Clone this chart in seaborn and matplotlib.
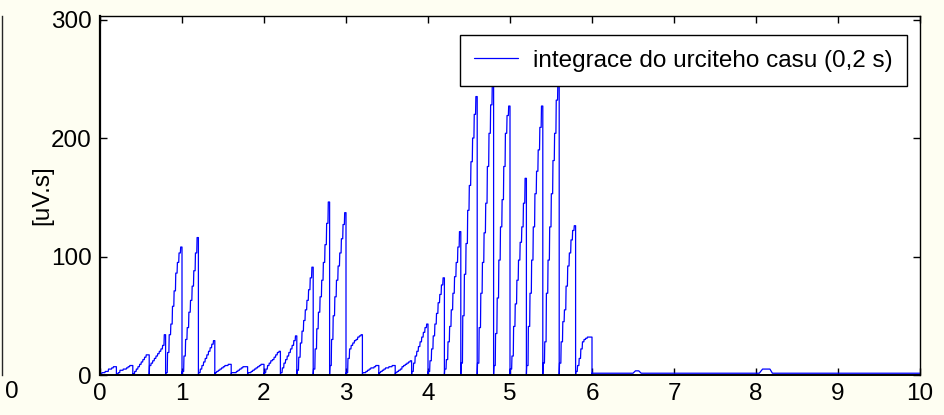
import numpy as np
import pandas as pd
import matplotlib
matplotlib.use("Agg")
import matplotlib.pyplot as plt
import seaborn as sns

# ---------------- data ----------------
window_len = 0.2          # integration window (s)
steps_per_window = 10     # integration steps inside a window
# integrated value [uV.s] for every 0.02 s step, windows 0..29 (0 - 6 s)
integ_values = [
    1, 2, 2, 3, 3, 5, 5, 6, 7, 7,
    1, 2, 4, 4, 5, 5, 6, 7, 8, 8,
    1, 3, 5, 7, 9, 11, 13, 15, 17, 17,
    8, 10, 12, 14, 16, 18, 20, 22, 25, 34,
    2, 19, 34, 43, 58, 71, 86, 95, 103, 108,
    3, 16, 30, 40, 53, 63, 75, 88, 103, 116,
    2, 5, 8, 11, 14, 17, 20, 23, 26, 29,
    2, 3, 4, 5, 6, 7, 8, 8, 9, 9,
    2, 2, 2, 3, 4, 5, 6, 7, 7, 7,
    2, 2, 3, 4, 5, 6, 7, 8, 9, 9,
    2, 5, 8, 10, 12, 13, 15, 17, 19, 20,
    2, 6, 10, 13, 16, 19, 22, 25, 29, 33,
    4, 15, 27, 37, 46, 55, 63, 72, 82, 91,
    5, 22, 39, 53, 66, 80, 95, 110, 128, 146,
    8, 30, 50, 66, 80, 92, 103, 115, 127, 137,
    2, 14, 22, 25, 27, 29, 30, 32, 33, 34,
    2, 2, 3, 4, 5, 6, 6, 7, 8, 8,
    2, 3, 4, 5, 6, 6, 7, 7, 8, 8,
    2, 3, 4, 5, 7, 8, 9, 10, 11, 12,
    3, 10, 16, 20, 24, 28, 32, 36, 40, 43,
    3, 12, 22, 33, 43, 52, 61, 68, 76, 82,
    5, 13, 28, 41, 55, 69, 83, 95, 108, 121,
    10, 50, 85, 111, 139, 160, 180, 200, 220, 235,
    10, 40, 69, 95, 120, 145, 176, 204, 228, 246,
    8, 35, 65, 97, 125, 148, 176, 204, 219, 227,
    5, 16, 41, 60, 80, 97, 112, 125, 145, 166,
    8, 41, 69, 97, 125, 153, 172, 190, 209, 227,
    10, 28, 69, 97, 125, 153, 181, 204, 232, 248,
    10, 28, 45, 55, 75, 92, 103, 114, 122, 126,
    3, 8, 14, 22, 28, 30, 31, 32, 32, 32,
]
# quiet part after 6 s
tail_t = [6.0, 6.5, 6.53, 6.57, 6.6, 8.04, 8.08, 8.17, 8.2, 10.0]
tail_v = [1.5, 1.5, 3.5, 3.5, 1.5, 1.5, 5.0, 5.0, 1.5, 1.5]

xticks = list(range(0, 11))
yticks = [0, 100, 200, 300]
legend_label = "integrace do urciteho casu (0,2 s)"
ylabel = "[uV.s]"

# ---------------- build staircase path ----------------
dt = window_len / steps_per_window
xs, ys = [], []
n_win = len(integ_values) // steps_per_window
for k in range(n_win):
    t0 = k * window_len
    xs.append(t0); ys.append(0.0)
    for j in range(steps_per_window):
        v = integ_values[k * steps_per_window + j]
        xs.append(t0 + j * dt + 0.004); ys.append(v)
        xs.append(t0 + (j + 1) * dt); ys.append(v)
xs.append(n_win * window_len); ys.append(0.0)
xs += tail_t; ys += tail_v
df = pd.DataFrame({"t": xs, "v": ys})

# ---------------- figure ----------------
sns.set_style("white")
plt.rcParams["font.family"] = ["Liberation Sans", "DejaVu Sans"]
plt.rcParams["text.color"] = "black"
plt.rcParams["xtick.color"] = "black"
plt.rcParams["ytick.color"] = "black"
plt.rcParams["axes.labelcolor"] = "black"
FS = 17.5

fig = plt.figure(figsize=(9.44, 4.15), dpi=100)
fig.patch.set_facecolor("#fefef2")
W, H = 944, 415
L, R, T, B = 100, 920, 16, 375
ax = fig.add_axes([L / W, (H - B) / H, (R - L) / W, (B - T) / H])
ax.set_facecolor("white")

sns.lineplot(data=df, x="t", y="v", sort=False, estimator=None, ax=ax,
             color="#0000ff", linewidth=0.9, label=legend_label)

ax.set_xlim(0, 10)
ax.set_ylim(0, 303)
ax.set_xticks(xticks)
ax.set_yticks(yticks)
ax.set_xticklabels([str(x) for x in xticks], fontsize=FS)
ax.set_yticklabels([str(y) for y in yticks], fontsize=FS)
ax.tick_params(direction="in", length=5, width=1, color="black",
               labelcolor="black", top=True, right=True, bottom=True,
               left=True, pad=6)
ax.set_xlabel("")
ax.set_ylabel(ylabel, fontsize=FS, labelpad=-2)
for s in ax.spines.values():
    s.set_visible(True)
    s.set_color("black")
    s.set_linewidth(1.0)
ax.spines["left"].set_linewidth(1.6)
ax.spines["bottom"].set_linewidth(1.4)

leg = ax.legend(loc="upper right", bbox_to_anchor=(0.984, 0.947),
                borderaxespad=0, fontsize=FS, fancybox=False, framealpha=1,
                edgecolor="black", handlelength=1.8, handletextpad=0.6,
                borderpad=0.6)
leg.get_frame().set_linewidth(1.0)
for txt in leg.get_texts():
    txt.set_color("black")

# partial neighbouring axis visible at the far left edge
ax2 = fig.add_axes([2 / W, (H - B) / H, 0.5 / W, (B - T) / H])
ax2.set_facecolor("none")
for name, s in ax2.spines.items():
    s.set_visible(name == "left")
ax2.spines["left"].set_linewidth(1.0)
ax2.set_xticks([])
ax2.set_yticks([0, 1])
ax2.set_ylim(-0.03, 0.98)
ax2.set_yticklabels([])
ax2.tick_params(axis="y", direction="in", length=5, width=1.2, color="black")
fig.text(12 / W, 1 - 392 / H, "0", fontsize=FS, ha="center", va="center")

fig.savefig("out.png", dpi=100, facecolor=fig.get_facecolor())
